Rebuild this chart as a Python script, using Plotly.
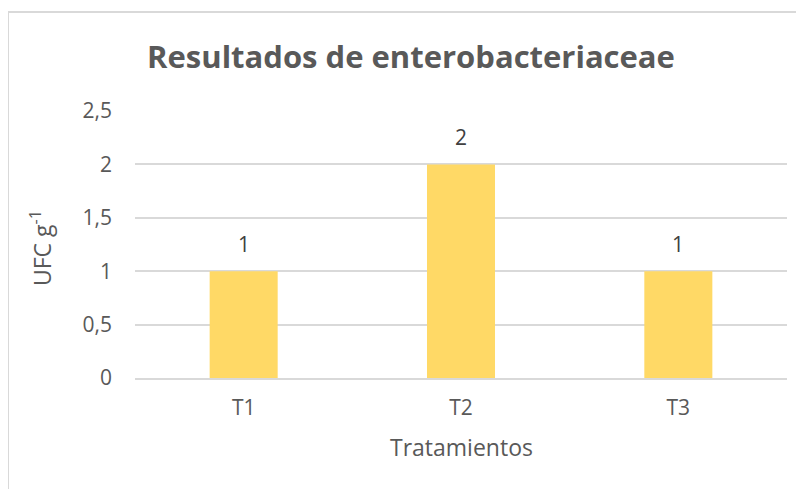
import plotly.graph_objects as go

tratamientos = ["T1", "T2", "T3"]
ufc = [1, 2, 1]
y_ticks = [0, 0.5, 1, 1.5, 2, 2.5]
y_tick_text = ["0", "0,5", "1", "1,5", "2", "2,5"]

FONT = "Open Sans, sans-serif"
GRAY = "#595959"

fig = go.Figure()
fig.add_trace(go.Bar(
    x=tratamientos, y=ufc,
    marker=dict(color="#FFD966", line=dict(width=0)),
    width=0.313, showlegend=False, hoverinfo="x+y",
))

# value labels above the bars
for t, v in zip(tratamientos, ufc):
    fig.add_annotation(x=t, y=v, text=str(v), showarrow=False,
                       yanchor="bottom", yshift=11,
                       font=dict(family=FONT, size=21, color="#404040"))

# axis titles placed like the original
fig.add_annotation(xref="paper", yref="paper", x=0.5, y=-0.258,
                   text="Tratamientos", showarrow=False,
                   xanchor="center", yanchor="middle",
                   font=dict(family=FONT, size=23, color=GRAY))
fig.add_annotation(xref="paper", yref="paper", x=-0.144, y=0.487,
                   text="UFC g<sup>-1</sup>", showarrow=False, textangle=-90,
                   xanchor="center", yanchor="middle",
                   font=dict(family=FONT, size=23, color=GRAY))

# chart frame (left and top edges are visible, the rest is cropped)
fig.add_shape(type="line", xref="paper", yref="paper",
              x0=-0.1948, x1=1.1, y0=1.371, y1=1.371,
              line=dict(color="#d9d9d9", width=2))
fig.add_shape(type="line", xref="paper", yref="paper",
              x0=-0.1948, x1=-0.1948, y0=1.371, y1=-0.5,
              line=dict(color="#d9d9d9", width=2))

# page body has an 8px margin, so the figure is offset by that
fig.update_layout(
    width=796, height=481,
    margin=dict(l=127, r=17, t=103, b=111),
    paper_bgcolor="white", plot_bgcolor="white",
    title=dict(text="<b>Resultados de enterobacteriaceae</b>",
               x=403 / 796, xanchor="center", y=1 - 49 / 481, yanchor="middle",
               font=dict(family=FONT, size=31, color=GRAY)),
    font=dict(family=FONT, color=GRAY),
)
fig.update_xaxes(
    showline=True, linecolor="#d9d9d9", linewidth=2,
    tickfont=dict(family=FONT, size=21, color=GRAY), ticks="",
    ticklabelstandoff=10,
)
fig.update_yaxes(
    range=[0, 2.5], tickvals=y_ticks, ticktext=y_tick_text,
    showgrid=True, gridcolor="#d9d9d9", gridwidth=1.5, zeroline=False,
    tickfont=dict(family=FONT, size=21, color=GRAY), ticks="", ticklabelstandoff=22,
)

fig.write_html("out.html")
